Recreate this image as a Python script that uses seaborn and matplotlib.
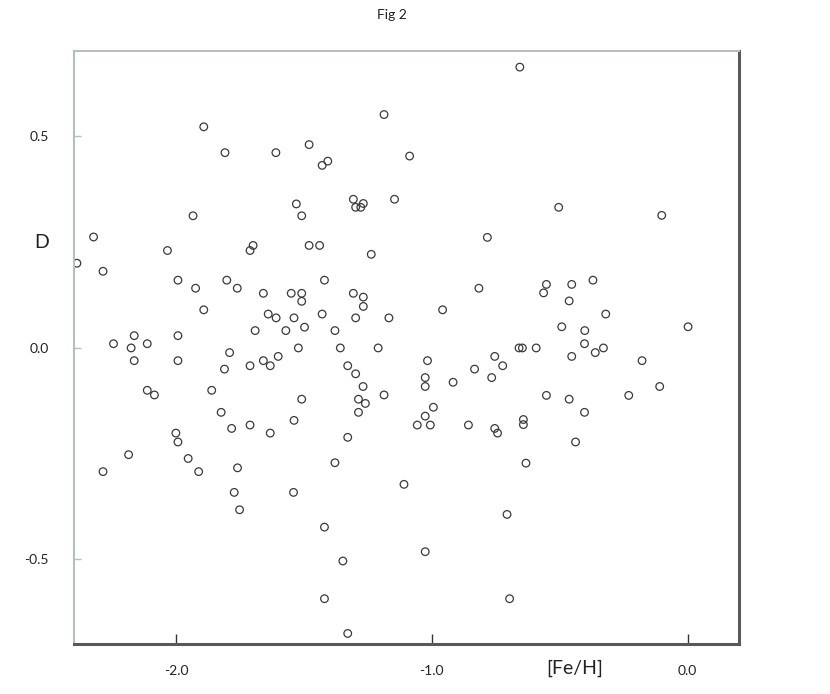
import numpy as np
import pandas as pd
import matplotlib
matplotlib.use("Agg")
import matplotlib.pyplot as plt
import seaborn as sns

# -----------------------------
# data
# -----------------------------
fe_h = [
    -1.892, -1.809, -1.610, -1.934, -2.323, -1.187, -1.480, -1.087, -1.407, -1.429,
    -1.530, -1.509, -1.307, -1.268, -1.298, -1.278, -1.146, -0.783, -0.656, -0.504,
    -0.101, -2.388, -2.286, -2.034, -1.699, -1.711, -1.993, -1.924, -1.802, -1.761,
    -1.659, -1.892, -1.640, -1.609, -1.571, -1.691, -2.164, -2.245, -2.176, -2.113,
    -1.993, -2.164, -1.993, -1.791, -1.811, -1.711, -1.659, -1.632, -1.601, -2.113,
    -2.085, -1.861, -1.824, -2.001, -1.783, -1.711, -1.632, -1.993, -2.186, -2.286,
    -1.953, -1.912, -1.760, -1.773, -1.752, -1.480, -1.439, -1.237, -1.420, -1.550,
    -1.509, -1.509, -1.307, -1.268, -1.268, -0.816, -0.958, -1.539, -1.429, -1.298,
    -1.168, -1.498, -1.379, -1.522, -1.358, -1.210, -1.329, -1.298, -1.269, -1.187,
    -1.287, -1.260, -1.287, -1.509, -1.539, -1.017, -1.026, -1.026, -0.994, -1.026,
    -1.057, -1.006, -0.917, -0.833, -0.754, -0.723, -0.766, -0.857, -0.754, -1.329,
    -1.379, -1.541, -1.109, -0.743, -1.420, -1.348, -1.026, -0.706, -1.420, -0.696,
    -1.329, -0.642, -0.642, -0.438, -0.632, -0.370, -0.552, -0.453, -0.563, -0.463,
    -0.320, -0.492, -0.402, 0.002, -0.403, -0.659, -0.646, -0.592, -0.361, -0.329,
    -0.453, -0.178, -0.109, -0.552, -0.463, -0.230, -0.403,
]
d_val = [
    0.521, 0.460, 0.460, 0.311, 0.261, 0.550, 0.479, 0.452, 0.440, 0.430,
    0.339, 0.311, 0.350, 0.340, 0.331, 0.331, 0.350, 0.260, 0.662, 0.331,
    0.312, 0.199, 0.180, 0.229, 0.241, 0.229, 0.159, 0.140, 0.159, 0.140,
    0.128, 0.089, 0.079, 0.070, 0.040, 0.040, 0.028, 0.009, -0.001, 0.009,
    0.028, -0.031, -0.031, -0.012, -0.051, -0.043, -0.031, -0.043, -0.021, -0.101,
    -0.112, -0.101, -0.153, -0.202, -0.191, -0.183, -0.202, -0.223, -0.253, -0.293,
    -0.262, -0.293, -0.284, -0.342, -0.383, 0.241, 0.241, 0.220, 0.159, 0.128,
    0.128, 0.109, 0.128, 0.119, 0.097, 0.140, 0.089, 0.070, 0.079, 0.070,
    0.070, 0.048, 0.040, -0.001, -0.001, -0.001, -0.043, -0.062, -0.092, -0.112,
    -0.122, -0.132, -0.153, -0.122, -0.172, -0.031, -0.071, -0.092, -0.141, -0.162,
    -0.183, -0.183, -0.082, -0.051, -0.021, -0.043, -0.071, -0.183, -0.191, -0.212,
    -0.272, -0.342, -0.323, -0.202, -0.424, -0.504, -0.482, -0.394, -0.593, -0.593,
    -0.675, -0.170, -0.182, -0.223, -0.273, 0.159, 0.149, 0.149, 0.129, 0.110,
    0.079, 0.049, 0.040, 0.049, 0.009, -0.001, -0.001, -0.001, -0.012, -0.001,
    -0.021, -0.031, -0.092, -0.113, -0.122, -0.113, -0.153,
]

x_ticks = [-2.0, -1.0, 0.0]
x_tick_labels = ["-2.0", "-1.0", "0.0"]
y_ticks = [-0.5, 0.0, 0.5]
y_tick_labels = ["-0.5", "0.0", "0.5"]

df = pd.DataFrame({"[Fe/H]": fe_h, "D": d_val})

# -----------------------------
# style
# -----------------------------
sns.set_theme(style="white")
plt.rcParams["font.family"] = ["Lato", "DejaVu Sans"]

fig = plt.figure(figsize=(8.3, 6.94), dpi=100)
ax = fig.add_axes([0.089, 0.072, 0.801, 0.8545])

sns.scatterplot(data=df, x="[Fe/H]", y="D", ax=ax, marker="o", s=30,
                facecolors="none", edgecolors="#3a3a3a", linewidth=0.9)

ax.set_xlim(-2.4, 0.2)
ax.set_ylim(-0.7, 0.7)

ax.set_xticks(x_ticks)
ax.set_xticklabels(x_tick_labels)
ax.set_yticks(y_ticks)
ax.set_yticklabels(y_tick_labels)

ax.tick_params(axis="x", direction="in", length=7, width=1, color="#333333",
               pad=15, labelsize=10, labelcolor="#222222", bottom=True)
ax.tick_params(axis="y", direction="in", length=5, width=1, color="#b4bfbf",
               pad=18, labelsize=10, labelcolor="#222222", left=True)

for side in ["left", "top"]:
    ax.spines[side].set_color("#b4bfbf")
    ax.spines[side].set_linewidth(1.5)
for side in ["bottom", "right"]:
    ax.spines[side].set_color("#595959")
    ax.spines[side].set_linewidth(2.2)

ax.set_xlabel("")
ax.set_ylabel("")
fig.text(575 / 830, 1 - 668 / 694, "[Fe/H]", ha="center", va="center",
         fontsize=14, color="#222222")
fig.text(42 / 830, 1 - 242 / 694, "D", ha="center", va="center",
         fontsize=14, color="#222222")
fig.text(392 / 830, 1 - 15 / 694, "Fig 2", ha="center", va="center",
         fontsize=10, color="#222222")

fig.savefig("out.png", dpi=100)
